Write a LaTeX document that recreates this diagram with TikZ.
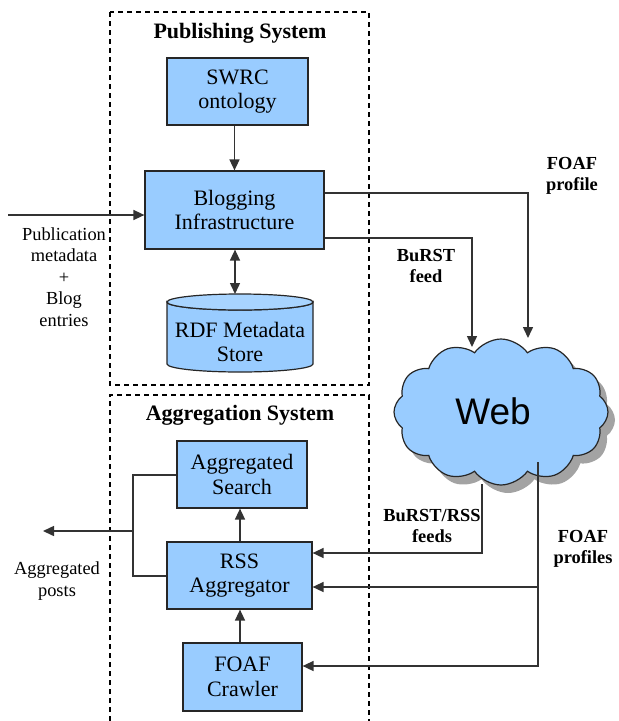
\documentclass[tikz,border=0pt]{standalone}
\usepackage{fontspec}
\setmainfont{Liberation Serif}
\newfontfamily\websans{Liberation Sans}
\usetikzlibrary{arrows.meta,shapes.symbols,shadows}

\definecolor{boxblue}{HTML}{99CCFF}
\definecolor{edgegray}{HTML}{333333}

\newcommand\boxfont{\rmfamily\mdseries\fontsize{22}{24.8}\selectfont}
\newcommand\notefont{\rmfamily\fontsize{18.4}{21.4}\selectfont}
\newcommand\notebold{\rmfamily\fontsize{18.4}{21.4}\selectfont\bfseries}
\newcommand\titlefont{\rmfamily\fontsize{22}{24}\selectfont\bfseries}

\tikzset{
  box/.style={draw=black!85, fill=boxblue, line width=1.2pt, inner sep=0pt,
              align=center, font=\boxfont},
  link/.style={draw=edgegray, line width=1.5pt},
  arr/.style={link, -{Triangle[length=11pt,width=10pt]}},
  biarr/.style={link, {Triangle[length=11pt,width=10pt]}-{Triangle[length=11pt,width=10pt]}},
  frame/.style={draw=black, line width=1.2pt, dash pattern=on 5pt off 4pt},
  note/.style={align=center, font=\notefont, inner sep=0pt},
  boldnote/.style={align=center, font=\notebold, inner sep=0pt},
  title/.style={font=\titlefont, inner sep=0pt},
}

\begin{document}
\begin{tikzpicture}[x=1pt,y=-1pt]
\useasboundingbox (0,0) rectangle (619,721);

% system frames
\draw[frame] (110,12) rectangle (369,385);
\draw[frame] (110,721) -- (110,395) -- (369,395) -- (369,721);
\node[title] (pubtitle) at (240,33) {Publishing System};
\node[title] (aggtitle) at (240,415) {Aggregation System};

% publishing side
\node[box, minimum width=141pt, minimum height=67pt] (swrc) at (237.5,91.5) {SWRC\\ontology};
\node[box, minimum width=179pt, minimum height=78pt] (blog) at (234.5,210) {Blogging\\Infrastructure};

% RDF store drawn as a cylinder
\path[fill=boxblue, draw=black!85, line width=1.2pt]
  (167,302) -- (167,364) arc[start angle=180, end angle=0, x radius=73, y radius=8]
  -- (313,302) arc[start angle=0, end angle=180, x radius=73, y radius=8] -- cycle;
\path[fill=boxblue!85!white, draw=black!85, line width=1.2pt]
  (240,302) ellipse[x radius=73, y radius=8];
\node[align=center, inner sep=0pt, font=\boxfont] (store) at (240,342) {RDF Metadata\\Store};
\coordinate (storetop) at (235,294);

% the web
\node[cloud, cloud puffs=12, cloud puff arc=110, aspect=1.45,
      minimum width=214pt, minimum height=146pt,
      fill=boxblue, draw=black!85, line width=1.2pt,
      drop shadow={shadow xshift=7pt, shadow yshift=-8pt, fill=black!45, opacity=0.8}]
      (web) at (501,412) {};
\node[font=\websans\fontsize{37}{40}\selectfont, inner sep=0pt] (webtext) at (493,411) {Web};

% aggregation side
\node[box, minimum width=130pt, minimum height=67pt] (search) at (242,474.5) {Aggregated\\Search};
\node[box, minimum width=145pt, minimum height=67pt] (rss) at (239.5,575.5) {RSS\\Aggregator};
\node[box, minimum width=119pt, minimum height=68pt] (crawler) at (242.5,677) {FOAF\\Crawler};

% connector end points
\coordinate (inpt) at (8,215);
\coordinate (foafin) at (528,338);
\coordinate (burstin) at (472,347);
\coordinate (feedsout) at (482,484);
\coordinate (profout) at (538,462);
\coordinate (postsout) at (43,531);
\coordinate (postsjoin) at (133,531);

% publishing connectors
\draw[arr] (swrc.south -| blog.north) -- (blog.north);
\draw[biarr] (blog.south -| storetop) -- (storetop);
\draw[arr] (inpt) -- (inpt -| blog.west);
\draw[arr] (blog.east |- 0,193) -| (foafin);
\draw[arr] (blog.east |- 0,238) -| (burstin);

% aggregation connectors
\draw[arr] (rss.north -| 240,0) -- (search.south -| 240,0);
\draw[arr] (crawler.north -| 240,0) -- (rss.south -| 240,0);
\draw[arr] (feedsout) |- (rss.east |- 0,553);
\draw[arr] (profout) |- (crawler.east |- 0,666);
\draw[arr] (profout |- 0,587) -- (rss.east |- 0,587);
\draw[link] (search.west |- 0,475) -| (postsjoin) |- (rss.west |- 0,576);
\draw[arr] (postsjoin) -- (postsout);

% labels
\node[note] (pubin) at (64,277) {Publication\\metadata\\+\\Blog\\entries};
\node[note] (posts) at (57,581) {Aggregated\\posts};
\node[boldnote] (foaflbl) at (572,176) {FOAF\\profile};
\node[boldnote] (burstlbl) at (426,266) {BuRST\\feed};
\node[boldnote] (feedslbl) at (432,526) {BuRST/RSS\\feeds};
\node[boldnote] (proflbl) at (583,549) {FOAF\\profiles};
\end{tikzpicture}
\end{document}
